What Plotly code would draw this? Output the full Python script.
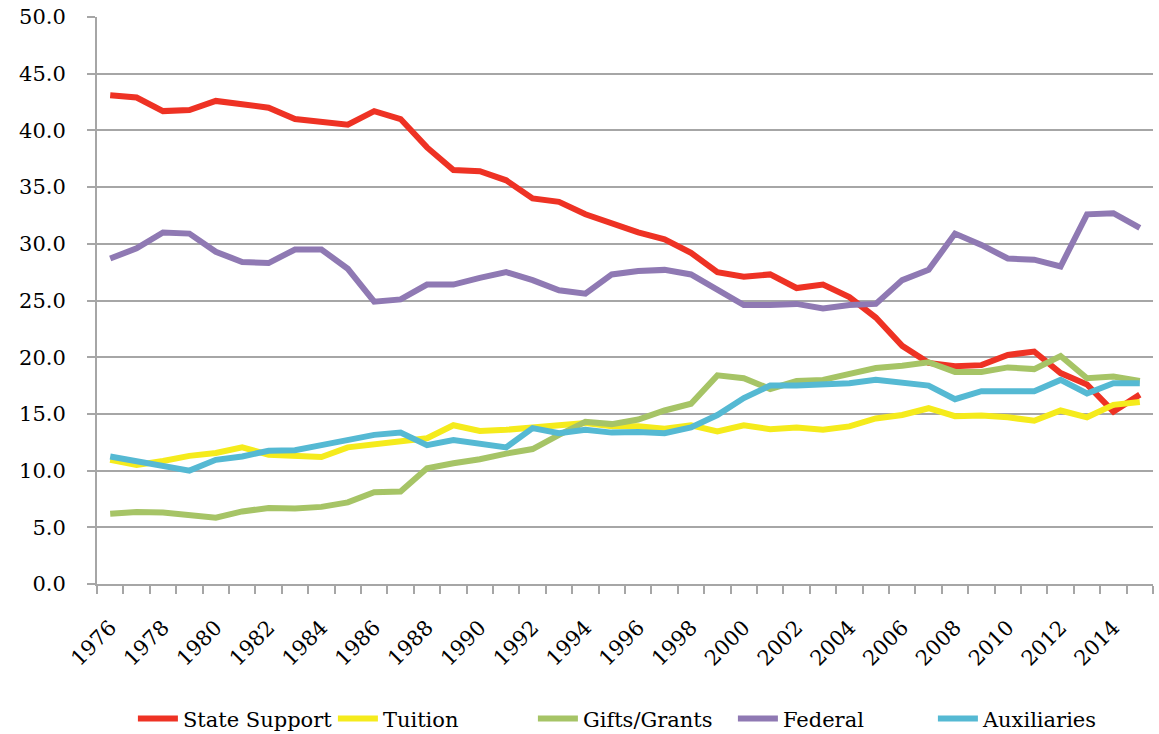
import plotly.graph_objects as go

years = list(range(1976, 2016))

state_support = [43.1, 42.9, 41.7, 41.8, 42.6, 42.3, 42.0, 41.0, 40.7, 40.5,
                 41.7, 41.0, 38.5, 36.5, 36.4, 35.6, 34.0, 33.7, 32.6, 31.8,
                 31.0, 30.4, 29.2, 27.5, 27.1, 27.3, 26.1, 26.4, 25.3, 23.5,
                 21.0, 19.5, 19.2, 19.3, 20.2, 20.5, 18.6, 17.6, 15.2, 16.7]

tuition = [10.95, 10.5, 10.85, 11.3, 11.55, 12.05, 11.4, 11.3, 11.2, 12.05,
           12.35, 12.65, 12.85, 14.0, 13.5, 13.6, 13.8, 14.0, 14.2, 13.9,
           13.9, 13.7, 14.0, 13.45, 14.0, 13.65, 13.8, 13.6, 13.9, 14.6,
           14.9, 15.5, 14.8, 14.85, 14.7, 14.4, 15.3, 14.7, 15.8, 16.05]

gifts_grants = [6.2, 6.35, 6.3, 6.1, 5.85, 6.4, 6.7, 6.65, 6.8, 7.2,
                8.1, 8.15, 10.2, 10.65, 11.0, 11.5, 11.9, 13.15, 14.3, 14.1,
                14.5, 15.3, 15.9, 18.4, 18.15, 17.2, 17.9, 18.0, 18.5, 19.05,
                19.25, 19.55, 18.7, 18.7, 19.1, 18.95, 20.1, 18.15, 18.3, 17.9]

federal = [28.7, 29.6, 31.0, 30.9, 29.3, 28.4, 28.3, 29.5, 29.5, 27.8,
           24.9, 25.1, 26.4, 26.4, 27.0, 27.5, 26.8, 25.9, 25.6, 27.3,
           27.6, 27.7, 27.3, 26.0, 24.6, 24.6, 24.7, 24.3, 24.6, 24.7,
           26.8, 27.7, 30.9, 29.9, 28.7, 28.6, 28.0, 32.6, 32.7, 31.4]

auxiliaries = [11.25, 10.8, 10.4, 10.0, 10.95, 11.25, 11.75, 11.8, 12.25, 12.7,
               13.15, 13.35, 12.25, 12.7, 12.4, 12.05, 13.75, 13.3, 13.6, 13.35,
               13.4, 13.3, 13.8, 14.9, 16.4, 17.5, 17.5, 17.6, 17.7, 18.0,
               17.7, 17.5, 16.3, 17.0, 17.0, 17.0, 18.0, 16.8, 17.7, 17.7]

series = [
    ("State Support", state_support, "#EE3224"),
    ("Tuition", tuition, "#F5EB1C"),
    ("Gifts/Grants", gifts_grants, "#A6C466"),
    ("Federal", federal, "#8F79B3"),
    ("Auxiliaries", auxiliaries, "#55B9D3"),
]

FONT = "DejaVu Serif"
FSIZE = 21
GRID = "#A6A6A6"

fig = go.Figure()
for name, vals, color in series:
    fig.add_trace(go.Scatter(
        x=years, y=vals, name=name, mode="lines",
        line=dict(color=color, width=6),
    ))

fig.update_layout(
    width=1159, height=734,
    margin=dict(l=97, r=6, t=17, b=150, autoexpand=False),
    paper_bgcolor="white", plot_bgcolor="white",
    font=dict(family=FONT, size=FSIZE, color="black"),
    showlegend=True,
    legend=dict(orientation="h", x=0.034, xanchor="left",
                y=-0.238, yanchor="middle",
                font=dict(family=FONT, size=FSIZE, color="black"),
                itemwidth=40, traceorder="normal",
                entrywidthmode="pixels", entrywidth=145),
)

fig.update_xaxes(
    range=[1975.5, 2015.5], automargin=False,
    tickmode="linear", tick0=1976, dtick=2,
    ticks="", tickangle=-45,
    tickfont=dict(family=FONT, size=FSIZE, color="black"),
    ticklabelstandoff=21,
    showgrid=False, zeroline=False,
    showline=True, linecolor=GRID, linewidth=2,
    minor=dict(tickmode="array", tickvals=[1975.5 + i for i in range(41)],
               ticks="outside", ticklen=8, tickcolor=GRID, tickwidth=2,
               showgrid=False),
)

fig.update_yaxes(
    range=[0, 50], automargin=False,
    tickmode="linear", tick0=0, dtick=5,
    tickformat=".1f",
    tickfont=dict(family=FONT, size=FSIZE, color="black"),
    ticks="outside", ticklen=8, tickcolor=GRID, tickwidth=2,
    showgrid=True, gridcolor=GRID, gridwidth=2,
    zeroline=False,
    showline=True, linecolor=GRID, linewidth=2,
    ticklabelstandoff=17,
)

# drop the default 8px body margin so the figure fills the window
fig.write_html("out.html", config={"displayModeBar": False},
               post_script="document.body.style.margin = '0';")
